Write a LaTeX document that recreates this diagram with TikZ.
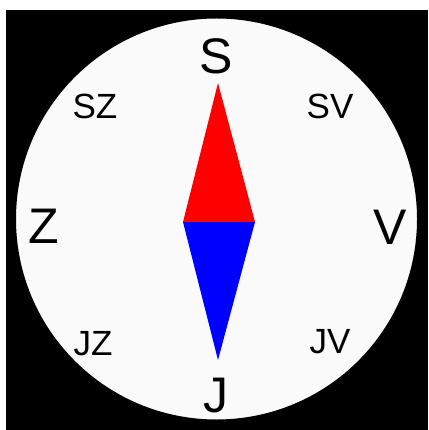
\documentclass[tikz,border=0pt]{standalone}
\usepackage{fontspec}
\setmainfont{Liberation Sans}
\usepackage{tikz}
\usepackage{xcolor}
\definecolor{ihlared}{RGB}{255,0,0}
\definecolor{ihlablue}{RGB}{0,0,255}
\tikzset{
    cifernik/.style={draw=black, fill=white!98!black, line width=7pt},
    hlavna/.style={font=\fontsize{50}{50}\selectfont, inner sep=0pt},
    vedlajsia/.style={font=\fontsize{35}{35}\selectfont, inner sep=0pt}
}

\begin{document}
\begin{tikzpicture}[x=1pt, y=-1pt]
    \useasboundingbox (0,0) rectangle (428,430);
    \fill[black] (6,10) rectangle (428,430);
    \draw[cifernik] (216.5,219) circle (204);
    % strelka
    \coordinate (sever) at (218,83);
    \coordinate (juh) at (218,360);
    \coordinate (lavy) at (183,222);
    \coordinate (pravy) at (255,222);
    \fill[ihlared] (sever) -- (pravy) -- (lavy) -- cycle;
    \fill[ihlablue] (lavy) -- (pravy) -- (juh) -- cycle;
    % svetove strany
    \node[hlavna] (S) at (216,56) {S};
    \node[hlavna] (J) at (216,396) {J};
    \node[hlavna] (Z) at (44,226) {Z};
    \node[hlavna] (V) at (390,227) {V};
    \node[vedlajsia] (SZ) at (95,106) {SZ};
    \node[vedlajsia] (SV) at (330,106) {SV};
    \node[vedlajsia] (JZ) at (93,344) {JZ};
    \node[vedlajsia] (JV) at (330,342) {JV};
\end{tikzpicture}
\end{document}
